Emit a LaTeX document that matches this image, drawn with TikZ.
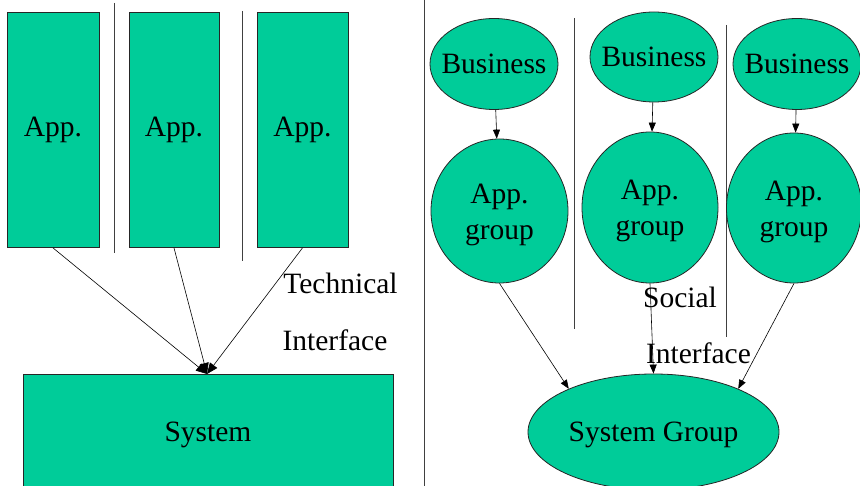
\documentclass[tikz,border=0pt]{standalone}
\usepackage{fontspec}
\setmainfont{Liberation Serif}
\usetikzlibrary{shapes.geometric,arrows.meta}
\definecolor{boxgreen}{RGB}{0,204,153}
\newcommand{\lowertext}[1]{\raisebox{-3pt}[\height][\depth]{#1}}
\tikzset{
  every node/.style={font=\fontsize{29.5}{37}\selectfont},
  appbox/.style={draw=black!85,line width=0.8pt,fill=boxgreen,rectangle,inner sep=0pt,minimum height=235pt},
  oval/.style={draw=black!85,line width=0.8pt,fill=boxgreen,ellipse,inner sep=0pt,align=center},
  bizoval/.style={oval,inner xsep=-12pt,minimum width=128pt},
  sep/.style={draw=black!75,line width=0.9pt},
  conn/.style={draw=black,line width=0.6pt},
  arr/.style={conn,-{Triangle[length=9pt,width=7pt]}},
  bigarr/.style={conn,-{Triangle[length=11pt,width=9pt]}},
  lbl/.style={inner sep=0pt}
}
\begin{document}
\begin{tikzpicture}[x=1pt,y=-1pt]
\clip (0,0) rectangle (860,486);
\fill[white] (0,0) rectangle (860,486);
% separators
\draw[sep] (114,3) -- (114,253);
\draw[sep] (242,11) -- (242,261);
\draw[sep] (424,0) -- (424,486);
\draw[sep] (574,18) -- (574,329);
\draw[sep] (726,25) -- (726,337);
% left side
\node[appbox,minimum width=92pt] (app1) at (53,130) {App.};
\node[appbox,minimum width=90pt] (app2) at (174,130) {App.};
\node[appbox,minimum width=91pt] (app3) at (302.5,130) {App.};
\node[draw=black!85,line width=0.8pt,fill=boxgreen,rectangle,inner sep=0pt,minimum width=370pt,minimum height=116pt] (sys) at (208,432) {\lowertext{System}};
\coordinate (tip) at (207,374);
\draw[bigarr] (app1.south) -- (tip);
\draw[bigarr] (app2.south) -- (tip);
\draw[bigarr] (app3.south) -- (tip);
\node[lbl] (tech) at (340.5,283) {Technical};
\node[lbl] (tint) at (335,340) {Interface};
% right side
\node[bizoval,minimum height=91pt] (biz1) at (494,64) {Business};
\node[bizoval,minimum height=90pt] (biz2) at (654,57) {Business};
\node[bizoval,minimum height=91pt] (biz3) at (797,64) {Business};
\node[oval,minimum width=137pt,minimum height=144pt] (grp1) at (499.5,211) {\lowertext{\begin{tabular}{@{}c@{}}App.\\[-1pt]group\end{tabular}}};
\node[oval,minimum width=136pt,minimum height=151pt] (grp2) at (650,207.5) {\lowertext{\begin{tabular}{@{}c@{}}App.\\[-1pt]group\end{tabular}}};
\node[oval,minimum width=135pt,minimum height=150pt] (grp3) at (794,208) {\lowertext{\begin{tabular}{@{}c@{}}App.\\[-1pt]group\end{tabular}}};
\node[oval,minimum width=251pt,minimum height=116pt] (sysg) at (653.5,432) {\lowertext{System Group}};
\draw[arr] (biz1) -- (grp1);
\draw[arr] (biz2) -- (grp2);
\draw[arr] (biz3) -- (grp3);
\draw[arr] (grp1.south) -- (sysg.153);
\draw[arr] (grp2.south) -- (sysg.north);
\draw[arr] (grp3.south) -- (sysg.27);
\node[lbl] (soc) at (680,297) {Social};
\node[lbl] (sint) at (698.5,353) {Interface};
\end{tikzpicture}
\end{document}
